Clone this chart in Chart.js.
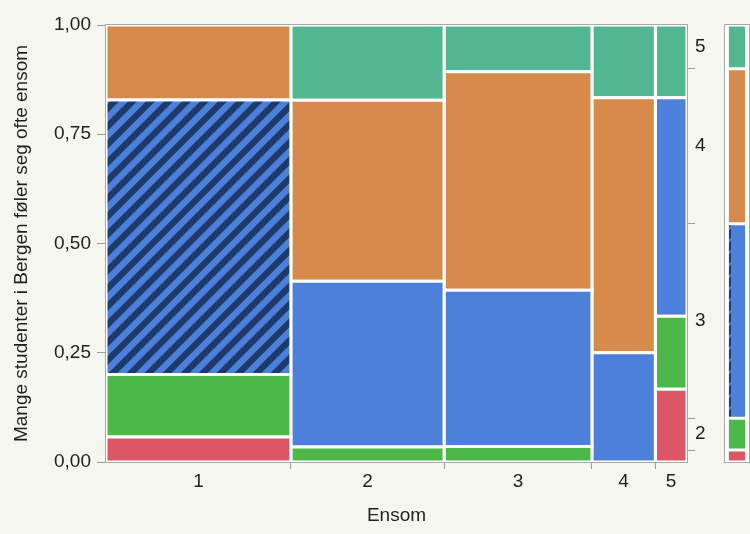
<!DOCTYPE html>
<html>
<head>
<meta charset="utf-8">
<script src="https://cdn.jsdelivr.net/npm/chart.js@4"></script>
<style>
  html, body { margin: 0; padding: 0; background: #f6f6f1; }
  #wrap { position: relative; width: 750px; height: 534px; }
  #mosaic { position: absolute; left: 0; top: 0; }
  #margin { position: absolute; left: 724px; top: 0; }
</style>
</head>
<body>
<div id="wrap">
  <canvas id="mosaic" width="750" height="534"></canvas>
  <canvas id="margin" width="26" height="534"></canvas>
</div>
<script>
// Ensom (x) levels and the levels of the y variable
var ensomLevels = ['1', '2', '3', '4', '5'];
var responseLevels = ['1', '2', '3', '4', '5'];

// counts per Ensom column, one array per response level
var resp1 = [2, 0, 0, 0, 1];
var resp2 = [5, 1, 1, 0, 1];
var resp3 = [22, 11, 10, 3, 3];
var resp4 = [6, 12, 14, 7, 0];
var resp5 = [0, 5, 3, 2, 1];

var yTicks = [0, 0.25, 0.5, 0.75, 1];

// selected (hatched) cell: Ensom 1, response 3
var selectedCol = 0;
var selectedLevel = 2;

var levelColors = ['#dd5664', '#4cb848', '#4c80db', '#d68b4c', '#52b690'];
var STRIPE = '#1d3a6b';
var FONT = "'Liberation Sans', Arial, sans-serif";
var TEXT = '#1e1e1e';
var TICK = '#9a9a9a';

var counts = [resp1, resp2, resp3, resp4, resp5];
function sum(a) { return a.reduce(function (s, v) { return s + v; }, 0); }

var colTotals = ensomLevels.map(function (_, j) {
    return sum(counts.map(function (r) { return r[j]; }));
});
var N = sum(colTotals);
var colStart = [];
var acc = 0;
colTotals.forEach(function (t) { colStart.push(acc / N); acc += t; });

// diagonal stripe pattern, optionally only between x0 and x1
function makeHatch(w, h, x0, x1) {
    var c = document.createElement('canvas');
    c.width = w; c.height = h;
    var g = c.getContext('2d');
    g.fillStyle = levelColors[2];
    g.fillRect(0, 0, w, h);
    g.save();
    g.beginPath();
    g.rect(x0, 0, x1 - x0, h);
    g.clip();
    g.strokeStyle = STRIPE;
    g.lineWidth = 6.4;
    for (var x = -3 * h; x <= w + 3 * h; x += h) {
        // long lines so the tile edges join up
        g.beginPath();
        g.moveTo(x - h, 2 * h);
        g.lineTo(x + 2 * h, -h);
        g.stroke();
    }
    g.restore();
    return g.createPattern(c, 'repeat');
}
var hatch = makeHatch(18, 18, 0, 18);
var margHatch = makeHatch(26, 12, 4.5, 7);

// one closed rectangle per cell
var datasets = [];
ensomLevels.forEach(function (lab, j) {
    var x0 = colStart[j], x1 = x0 + colTotals[j] / N, cum = 0;
    counts.forEach(function (row, k) {
        var c = row[j];
        if (!c) return;
        var y0 = cum / colTotals[j], y1 = (cum + c) / colTotals[j];
        cum += c;
        datasets.push({
            label: 'Ensom ' + lab + ' / ' + responseLevels[k],
            data: [{x: x0, y: y0}, {x: x1, y: y0}, {x: x1, y: y1}, {x: x0, y: y1}, {x: x0, y: y0}],
            backgroundColor: (j === selectedCol && k === selectedLevel) ? hatch : levelColors[k],
            borderColor: '#ffffff',
            borderWidth: 3,
            borderCapStyle: 'square',
            borderJoinStyle: 'miter',
            fill: 'shape',
            pointRadius: 0,
            tension: 0,
            clip: 0
        });
    });
});

// x ticks: marks on column borders, labels in column centres
var xTicks = [];
colStart.forEach(function (s, j) {
    if (j > 0) xTicks.push({value: s, mark: true, text: ''});
    xTicks.push({value: s + colTotals[j] / N / 2, mark: false, text: ensomLevels[j]});
});

// right axis from the overall distribution
var margTotals = counts.map(sum);
var y2Ticks = [];
acc = 0;
margTotals.forEach(function (m, k) {
    var a = acc / N, b = (acc + m) / N;
    if (m / N > 0.05) y2Ticks.push({value: (a + b) / 2, mark: false, text: responseLevels[k]});
    if (k < margTotals.length - 1) y2Ticks.push({value: b, mark: true, text: ''});
    acc += m;
});
y2Ticks.sort(function (a, b) { return a.value - b.value; });

function copyTicks(list) {
    return list.map(function (t) { return {value: t.value, mark: t.mark, text: t.text}; });
}
function markColor(ctx) {
    return ctx.tick && ctx.tick.mark ? TICK : 'rgba(0,0,0,0)';
}
function textOf(v, i, ticks) { return ticks[i].text; }

var framePlugin = {
    id: 'frame',
    beforeDatasetsDraw: function (chart) {
        var a = chart.chartArea, c = chart.ctx;
        c.save();
        c.fillStyle = '#ffffff';
        c.fillRect(a.left, a.top, a.right - a.left, a.bottom - a.top);
        c.restore();
    },
    afterDatasetsDraw: function (chart) {
        var a = chart.chartArea, c = chart.ctx;
        c.save();
        c.strokeStyle = '#a9a9a9';
        c.lineWidth = 1;
        c.strokeRect(a.left - 0.5, a.top - 0.5, a.right - a.left + 1, a.bottom - a.top + 1);
        c.restore();
    }
};

Chart.defaults.font.family = FONT;
Chart.defaults.color = TEXT;

new Chart(document.getElementById('mosaic'), {
    type: 'line',
    data: { datasets: datasets },
    options: {
        responsive: false,
        animation: false,
        layout: { padding: { top: 25, right: 0, bottom: 0, left: 0 } },
        plugins: { legend: { display: false }, tooltip: { enabled: false } },
        scales: {
            x: {
                type: 'linear',
                min: 0,
                max: 1,
                afterBuildTicks: function (s) { s.ticks = copyTicks(xTicks); },
                afterFit: function (s) { s.height = 72; },
                ticks: { autoSkip: false, maxRotation: 0, padding: 1, font: { size: 19 }, color: TEXT, callback: textOf },
                grid: { drawOnChartArea: false, tickLength: 7, tickColor: markColor },
                border: { display: false },
                title: { display: true, text: 'Ensom', font: { size: 19 }, color: TEXT, padding: { top: 7, bottom: 7 } }
            },
            y: {
                type: 'linear',
                min: 0,
                max: 1,
                afterBuildTicks: function (s) { s.ticks = yTicks.map(function (v) { return {value: v}; }); },
                afterFit: function (s) { s.width = 106; },
                ticks: { padding: 6, font: { size: 19 }, color: TEXT,
                    callback: function (v) { return v.toFixed(2).replace('.', ','); } },
                grid: { drawOnChartArea: false, tickLength: 9, tickColor: TICK },
                border: { display: false },
                title: { display: true, text: 'Mange studenter i Bergen føler seg ofte ensom',
                    font: { size: 19 }, color: TEXT, padding: { top: 10, bottom: 0 } }
            },
            y2: {
                type: 'linear',
                position: 'right',
                min: 0,
                max: 1,
                afterBuildTicks: function (s) { s.ticks = copyTicks(y2Ticks); },
                afterFit: function (s) { s.width = 63; },
                ticks: { autoSkip: false, padding: 0, font: { size: 19 }, color: TEXT, callback: textOf },
                grid: { drawOnChartArea: false, tickLength: 8, tickColor: markColor },
                border: { display: false }
            }
        }
    },
    plugins: [framePlugin]
});

// overall distribution bar on the right
new Chart(document.getElementById('margin'), {
    type: 'bar',
    data: {
        labels: ['alle'],
        datasets: responseLevels.map(function (lab, k) {
            return {
                label: lab,
                data: [margTotals[k] / N],
                backgroundColor: k === selectedLevel ? margHatch : levelColors[k],
                borderColor: '#ffffff',
                borderWidth: 1.5,
                borderSkipped: false,
                categoryPercentage: 1,
                barPercentage: 0.8
            };
        })
    },
    options: {
        responsive: false,
        animation: false,
        layout: { padding: { top: 25, bottom: 72, left: 1, right: 1 } },
        plugins: { legend: { display: false }, tooltip: { enabled: false } },
        scales: {
            x: { display: false, stacked: true },
            y: { display: false, stacked: true, min: 0, max: 1 }
        }
    },
    plugins: [framePlugin]
});
</script>
</body>
</html>
